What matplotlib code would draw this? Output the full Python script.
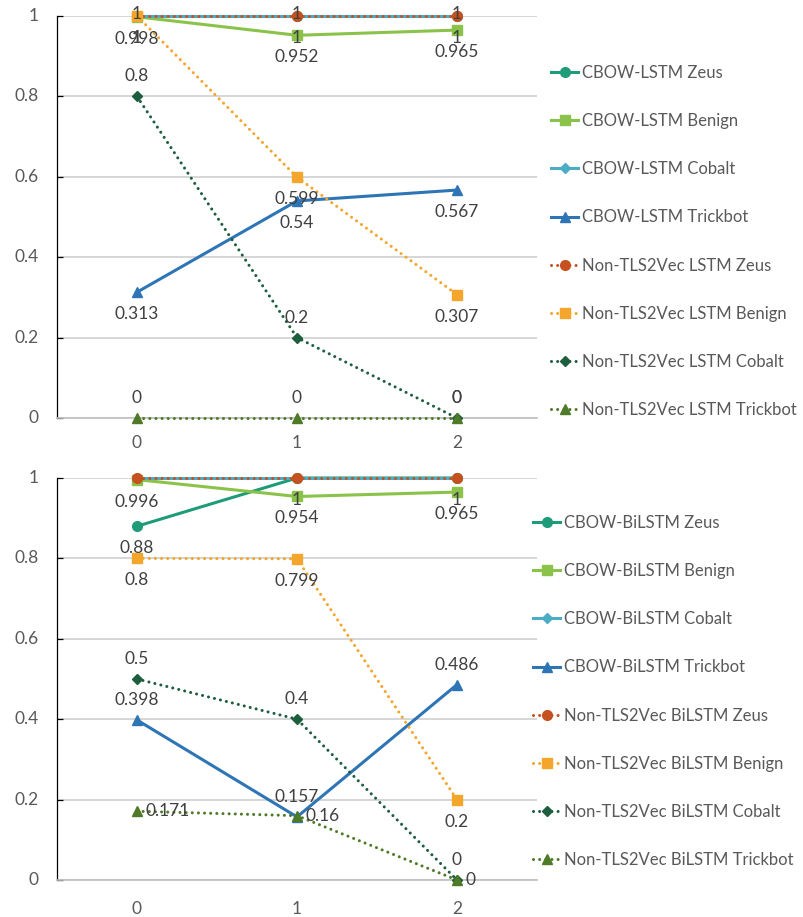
import matplotlib
matplotlib.use('Agg')
import numpy as np
from matplotlib import pyplot as plt

plt.rcParams['font.family'] = ['Lato', 'DejaVu Sans']

categories = [0, 1, 2]
y_ticks = [0, 0.2, 0.4, 0.6, 0.8, 1]

# LSTM results
lstm_series = ['CBOW-LSTM Zeus', 'CBOW-LSTM Benign', 'CBOW-LSTM Cobalt', 'CBOW-LSTM Trickbot',
               'Non-TLS2Vec LSTM Zeus', 'Non-TLS2Vec LSTM Benign', 'Non-TLS2Vec LSTM Cobalt',
               'Non-TLS2Vec LSTM Trickbot']
lstm_cbow_zeus = [1, 1, 1]
lstm_cbow_benign = [0.998, 0.952, 0.965]
lstm_cbow_cobalt = [1, 1, 1]
lstm_cbow_trickbot = [0.313, 0.54, 0.567]
lstm_plain_zeus = [1, 1, 1]
lstm_plain_benign = [1, 0.599, 0.307]
lstm_plain_cobalt = [0.8, 0.2, 0]
lstm_plain_trickbot = [0, 0, 0]

# BiLSTM results
bilstm_series = ['CBOW-BiLSTM Zeus', 'CBOW-BiLSTM Benign', 'CBOW-BiLSTM Cobalt', 'CBOW-BiLSTM Trickbot',
                 'Non-TLS2Vec BiLSTM Zeus', 'Non-TLS2Vec BiLSTM Benign', 'Non-TLS2Vec BiLSTM Cobalt',
                 'Non-TLS2Vec BiLSTM Trickbot']
bilstm_cbow_zeus = [0.88, 1, 1]
bilstm_cbow_benign = [0.996, 0.954, 0.965]
bilstm_cbow_cobalt = [1, 1, 1]
bilstm_cbow_trickbot = [0.398, 0.157, 0.486]
bilstm_plain_zeus = [1, 1, 1]
bilstm_plain_benign = [0.8, 0.799, 0.2]
bilstm_plain_cobalt = [0.5, 0.4, 0]
bilstm_plain_trickbot = [0.171, 0.16, 0]

COLORS = ['#1E9C7A', '#8BC34A', '#4BACC6', '#2E75B6', '#C4511F', '#F4A52B', '#1D5E3E', '#4F7A28']
MARKERS = ['o', 's', 'D', '^', 'o', 's', 'D', '^']
MSIZES = [7, 6.5, 5.2, 7, 7, 6.5, 5.2, 7]
DOT = (0, (0.01, 2.0))

# data label placement per series (None = no labels)
lstm_label_pos = ['below', 'below', None, 'below', 'above', 'below', 'above', 'above']
bilstm_label_pos = ['below', 'below', None, 'above', None, 'below', 'above', 'right']

FIG_W, FIG_H = 804, 917
fig = plt.figure(figsize=(FIG_W / 100, FIG_H / 100), dpi=100)

LABEL_COLOR = '#404040'
TICK_COLOR = '#595959'
FS = 12.5
LEGEND_FS = 12


def put_label(ax, xv, yv, pos):
    txt = f'{yv:g}'
    px, py = ax.transData.transform((xv, yv))
    if pos == 'above':
        # keep labels inside the figure
        dy = min(20, FIG_H - 14 - py)
        ax.annotate(txt, (xv, yv), xytext=(0, dy), textcoords='offset pixels',
                    ha='center', va='center', fontsize=FS, color=LABEL_COLOR, zorder=20)
    elif pos == 'below':
        ax.annotate(txt, (xv, yv), xytext=(0, -22), textcoords='offset pixels',
                    ha='center', va='center', fontsize=FS, color=LABEL_COLOR, zorder=20)
    elif pos == 'right':
        ax.annotate(txt, (xv, yv), xytext=(9, 0), textcoords='offset pixels',
                    ha='left', va='center', fontsize=FS, color=LABEL_COLOR, zorder=20)


def draw_panel(rect, names, values, label_pos, legend_left, legend_top, xlab_off):
    ax = fig.add_axes(rect)
    ax.set_xlim(-0.5, 2.5)
    ax.set_ylim(0, 1)
    ax.set_yticks(y_ticks)
    ax.set_xticks(categories)
    ax.grid(axis='y', color='#D0D0D0', linewidth=1.2)
    ax.set_axisbelow(True)
    for side in ['top', 'right']:
        ax.spines[side].set_visible(False)
    ax.spines['left'].set_color('black')
    ax.spines['left'].set_linewidth(0.9)
    ax.spines['bottom'].set_color('#BFBFBF')
    ax.spines['bottom'].set_linewidth(1.2)
    ax.tick_params(axis='y', direction='in', length=4.5, width=0.9, color='black', labelleft=False)
    ax.tick_params(axis='x', length=0, labelbottom=False)

    # axis labels placed at fixed pixel offsets from the spines
    for t in y_ticks:
        ax.annotate(f'{t:g}', (0, t), xycoords=('axes fraction', 'data'), xytext=(-18, 0),
                    textcoords='offset pixels', ha='right', va='center',
                    fontsize=FS, color=TICK_COLOR)
    for c in categories:
        ax.annotate(str(c), (c, 0), xycoords=('data', 'axes fraction'), xytext=(0, -xlab_off),
                    textcoords='offset pixels', ha='center', va='center',
                    fontsize=FS, color=TICK_COLOR)

    handles = []
    for i, (name, vals) in enumerate(zip(names, values)):
        ls = '-' if i < 4 else DOT
        line, = ax.plot(categories, vals, color=COLORS[i], linestyle=ls, linewidth=2.2,
                        marker=MARKERS[i], markersize=MSIZES[i], markeredgecolor=COLORS[i],
                        markerfacecolor=COLORS[i], dash_capstyle='round', label=name,
                        clip_on=False, zorder=3 + i)
        handles.append(line)
    for i, vals in enumerate(values):
        if label_pos[i] is None:
            continue
        for xv, yv in zip(categories, vals):
            put_label(ax, xv, yv, label_pos[i])

    ax.legend(handles=handles, loc='upper left',
              bbox_to_anchor=(legend_left / FIG_W, 1 - legend_top / FIG_H), bbox_transform=fig.transFigure,
              frameon=False, fontsize=LEGEND_FS, labelcolor=TICK_COLOR, handlelength=1.65,
              handletextpad=0.2, labelspacing=1.93, borderpad=0, borderaxespad=0)
    return ax


left = 57 / FIG_W
width = 480 / FIG_W
height = 402 / FIG_H

draw_panel([left, 1 - 418 / FIG_H, width, height], lstm_series,
           [lstm_cbow_zeus, lstm_cbow_benign, lstm_cbow_cobalt, lstm_cbow_trickbot,
            lstm_plain_zeus, lstm_plain_benign, lstm_plain_cobalt, lstm_plain_trickbot],
           lstm_label_pos, 551, 65, 25)
draw_panel([left, 1 - 880 / FIG_H, width, height], bilstm_series,
           [bilstm_cbow_zeus, bilstm_cbow_benign, bilstm_cbow_cobalt, bilstm_cbow_trickbot,
            bilstm_plain_zeus, bilstm_plain_benign, bilstm_plain_cobalt, bilstm_plain_trickbot],
           bilstm_label_pos, 533, 515, 29)

fig.savefig('out.png', dpi=100, facecolor='white')
